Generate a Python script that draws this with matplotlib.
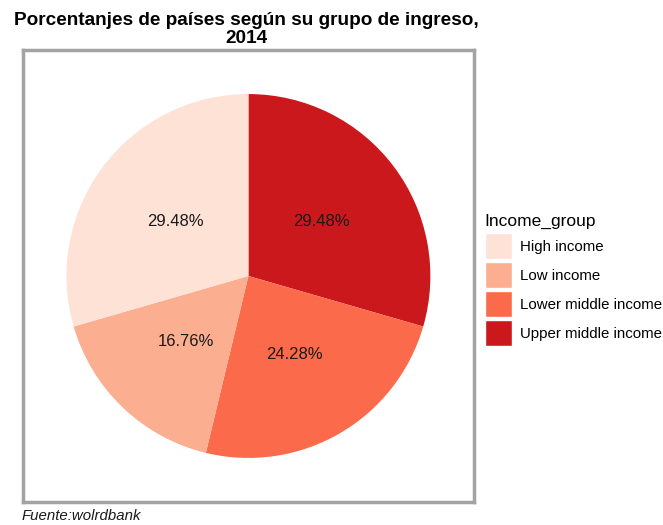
import matplotlib.pyplot as plt
from matplotlib.patches import Patch

plt.rcParams['font.family'] = ['Liberation Sans', 'DejaVu Sans']

# datos (orden en sentido horario desde las 12)
grupos = ["Upper middle income", "Lower middle income", "Low income", "High income"]
porcentajes = [29.48, 24.28, 16.76, 29.48]
colores = ["#CB181D", "#FB6A4A", "#FCAE91", "#FEE2D6"]

orden_leyenda = ["High income", "Low income", "Lower middle income", "Upper middle income"]

fig = plt.figure(figsize=(6.63, 5.25), dpi=100)
ax = fig.add_axes([0.0347, 0.0438, 0.680, 0.861])

ax.pie(porcentajes, colors=colores, startangle=90, counterclock=False,
       radius=1, autopct='%.2f%%', pctdistance=0.5,
       wedgeprops=dict(linewidth=0), textprops=dict(fontsize=12, color="#1a1a1a"))
ax.set_xlim(-1.239, 1.239)
ax.set_ylim(-1.24, 1.24)
ax.set_aspect('equal')
ax.set_frame_on(True)
ax.set_xticks([])
ax.set_yticks([])
for s in ax.spines.values():
    s.set_visible(True)
    s.set_color("#A3A3A3")
    s.set_linewidth(2.5)

fig.text(0.371, 0.977, "Porcentanjes de países según su grupo de ingreso,\n2014",
         ha="center", va="top", fontsize=13.7, fontweight="bold", linespacing=1.08)

fig.text(0.033, 0.003, "Fuente:wolrdbank", ha="left", va="bottom",
         fontsize=10.8, style="italic", color="#1a1a1a")

mapa = dict(zip(grupos, colores))
handles = [Patch(facecolor=mapa[g], edgecolor="white", linewidth=1) for g in orden_leyenda]
leg = fig.legend(handles, orden_leyenda, title="Income_group", loc="upper left",
                 bbox_to_anchor=(0.72, 0.605), frameon=False, fontsize=10.8,
                 title_fontsize=12.5, handlelength=1.78, handleheight=2.3,
                 labelspacing=0.2, handletextpad=0.55, borderpad=0, alignment="left")
leg.get_title().set_y(1)

fig.savefig("out.png", dpi=100)
